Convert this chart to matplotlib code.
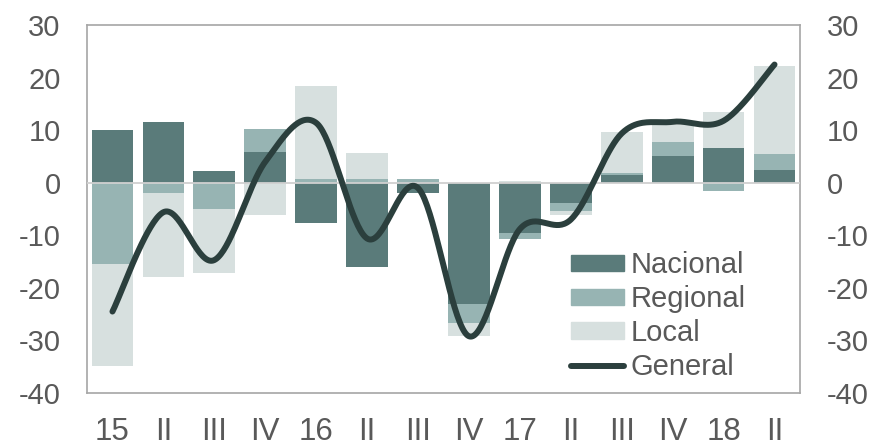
import numpy as np
import matplotlib
matplotlib.use('Agg')
import matplotlib.pyplot as plt
from matplotlib.lines import Line2D
from matplotlib.patches import Patch

# datos
cats = ['15', 'II', 'III', 'IV', '16', 'II', 'III', 'IV', '17', 'II', 'III', 'IV', '18', 'II']
nacional = [10.1, 11.6, 2.2, 5.9, -7.6, -16.0, -2.0, -23.1, -9.6, -3.9, 1.5, 5.1, 6.7, 2.4]
regional = [-15.5, -1.9, -5.0, 4.3, 0.7, 0.7, 0.7, -3.6, -1.1, -1.4, 0.3, 2.7, -1.6, 3.1]
local = [-19.4, -16.0, -12.1, -6.1, 17.8, 4.9, 0.0, -2.5, 0.3, -0.8, 7.9, 3.2, 6.8, 16.7]
general = [-24.5, -5.6, -14.7, 4.0, 11.4, -10.6, -1.0, -29.2, -8.8, -7.0, 9.4, 11.6, 11.8, 22.5]

c_nac = '#5a7b7a'
c_reg = '#97b4b3'
c_loc = '#d7e0df'
c_gen = '#2b3f3d'
c_txt = '#595959'

plt.rcParams['font.family'] = ['Liberation Sans', 'DejaVu Sans']
plt.rcParams['axes.unicode_minus'] = False


def smooth(x, y, n=40):
    # curva suavizada tipo Excel (Bezier con tangentes Catmull-Rom)
    pts = np.column_stack([x, y]).astype(float)
    p = np.vstack([pts[0], pts, pts[-1]])
    out = []
    t = np.linspace(0, 1, n)[:, None]
    for i in range(1, len(p) - 2):
        p0, p1, p2, p3 = p[i - 1], p[i], p[i + 1], p[i + 2]
        c1 = p1 + (p2 - p0) / 6
        c2 = p2 - (p3 - p1) / 6
        seg = ((1 - t) ** 3) * p1 + 3 * ((1 - t) ** 2) * t * c1 + 3 * (1 - t) * t ** 2 * c2 + t ** 3 * p2
        out.append(seg)
    out = np.vstack(out)
    return out[:, 0], out[:, 1]


fig = plt.figure(figsize=(8.77, 4.47), dpi=100)
ax = fig.add_axes([0.0992, 0.1208, 0.813, 0.823])

x = np.arange(len(cats))
w = 0.82
pos = np.zeros(len(cats))
neg = np.zeros(len(cats))
for vals, col, lab in [(nacional, c_nac, 'Nacional'), (regional, c_reg, 'Regional'), (local, c_loc, 'Local')]:
    v = np.array(vals)
    base = np.where(v >= 0, pos, neg)
    ax.bar(x, v, w, bottom=base, color=col, zorder=2, label=lab)
    pos = pos + np.where(v >= 0, v, 0)
    neg = neg + np.where(v < 0, v, 0)

ax.axhline(0, color='#d0d0d0', lw=1.3, zorder=3)
sx, sy = smooth(x, general)
ax.plot(sx, sy, color=c_gen, lw=4.3, solid_capstyle='round', zorder=4)

ax.set_xlim(-0.5, len(cats) - 0.5)
ax.set_ylim(-40, 30)
ax.set_yticks(range(-40, 31, 10))
ax.set_xticks(x)
ax.set_xticklabels(cats)
ax.tick_params(axis='y', length=0, pad=19, labelsize=21, labelcolor=c_txt)
ax.tick_params(axis='x', length=0, pad=17, labelsize=22.5, labelcolor=c_txt)
for s in ax.spines.values():
    s.set_color('#a6a6a6')
    s.set_linewidth(1.2)

ax2 = ax.twinx()
ax2.set_ylim(-40, 30)
ax2.set_yticks(range(-40, 31, 10))
ax2.tick_params(axis='y', length=0, pad=19, labelsize=21, labelcolor=c_txt)
for s in ax2.spines.values():
    s.set_visible(False)

handles = [Patch(color=c_nac), Patch(color=c_reg), Patch(color=c_loc),
           Line2D([], [], color=c_gen, lw=4.3, solid_capstyle='round')]
labels = ['Nacional', 'Regional', 'Local', 'General']
leg = ax.legend(handles, labels, loc='upper left', bbox_to_anchor=(0.679, 0.385),
                frameon=False, fontsize=21, handlelength=1.8, handleheight=0.5,
                handletextpad=0.25, labelspacing=0.2, borderpad=0, borderaxespad=0)
for t in leg.get_texts():
    t.set_color(c_txt)

fig.savefig('out.png', dpi=100)
